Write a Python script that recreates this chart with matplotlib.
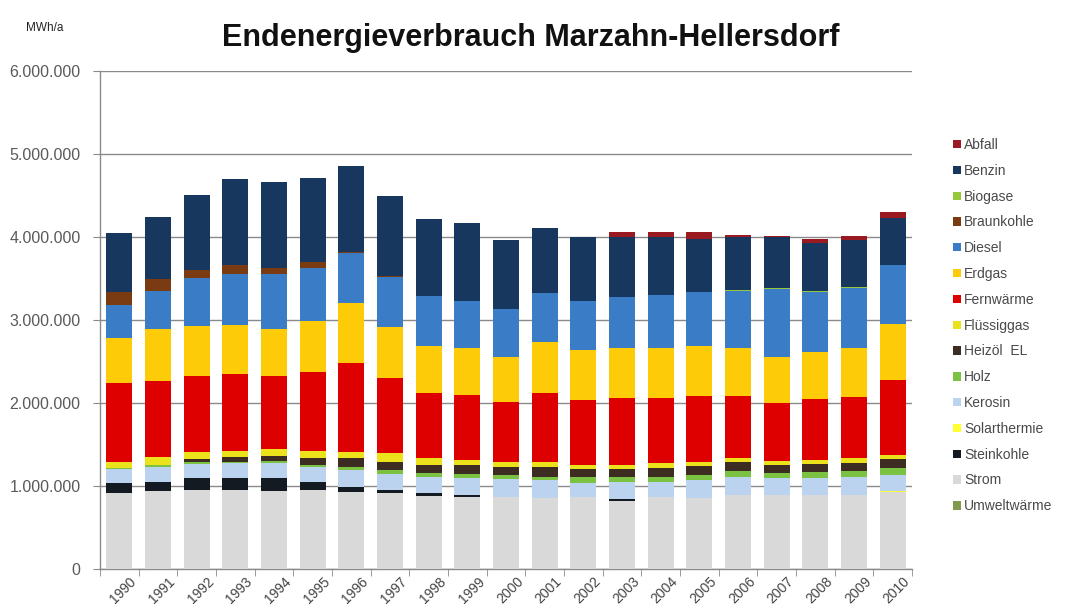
import matplotlib
matplotlib.use('Agg')
import matplotlib.pyplot as plt
import numpy as np
from matplotlib.ticker import FuncFormatter, FixedLocator
from matplotlib.patches import Patch
import matplotlib.transforms as mtransforms

plt.rcParams['font.family'] = ['Liberation Sans', 'DejaVu Sans']

# Endenergieverbrauch in 1000 MWh/a
years = [str(y) for y in range(1990, 2011)]
umweltwaerme = [0, 0, 0, 0, 0, 0, 0, 0, 0, 0, 2, 2, 2, 3, 3, 3, 4, 4, 5, 5, 6]
strom = [918, 939, 951, 951, 942, 951, 930, 911, 878, 870, 868, 849, 861, 815, 867, 848, 886, 886, 885, 885, 924]
steinkohle = [113, 112, 140, 140, 149, 100, 60, 40, 33, 20, 0, 0, 0, 21, 0, 0, 0, 0, 0, 0, 0]
solarthermie = [0, 0, 0, 0, 0, 0, 0, 1, 1, 1, 1, 2, 2, 2, 2, 3, 3, 3, 4, 4, 4]
kerosin = [170, 173, 173, 181, 188, 173, 201, 191, 191, 200, 208, 218, 174, 210, 179, 217, 210, 198, 197, 209, 197]
holz = [12, 27, 27, 19, 24, 27, 33, 48, 49, 52, 52, 40, 64, 52, 52, 60, 80, 61, 80, 80, 81]
heizoel_el = [5, 5, 33, 53, 57, 88, 108, 100, 100, 109, 100, 120, 97, 97, 109, 108, 108, 100, 93, 89, 112]
fluessiggas = [73, 88, 88, 80, 84, 85, 80, 101, 80, 60, 60, 60, 52, 52, 60, 52, 41, 48, 48, 60, 48]
fernwaerme = [944, 922, 914, 919, 882, 943, 1063, 903, 782, 782, 715, 823, 782, 802, 782, 791, 750, 694, 730, 734, 902]
erdgas = [541, 622, 602, 593, 558, 617, 722, 621, 573, 562, 541, 621, 601, 602, 602, 605, 581, 561, 566, 590, 671]
diesel = [397, 457, 570, 622, 666, 646, 609, 602, 598, 569, 582, 583, 594, 621, 641, 647, 689, 818, 732, 730, 713]
braunkohle = [157, 145, 108, 100, 80, 61, 10, 5, 0, 0, 0, 0, 0, 0, 0, 0, 0, 0, 0, 0, 0]
biogase = [0, 0, 0, 0, 0, 0, 0, 0, 0, 0, 0, 0, 0, 0, 0, 3, 5, 5, 5, 8, 8]
benzin = [717, 750, 903, 1035, 1031, 1018, 1034, 966, 935, 942, 838, 789, 770, 722, 702, 642, 642, 617, 586, 570, 557]
abfall = [0, 0, 0, 0, 0, 0, 0, 0, 0, 0, 0, 0, 0, 53, 60, 80, 20, 12, 40, 48, 72]

# stack order bottom -> top
series = [
    ('Umweltwärme', umweltwaerme, '#7f9a4c'),
    ('Strom', strom, '#d9d9d9'),
    ('Steinkohle', steinkohle, '#141a22'),
    ('Solarthermie', solarthermie, '#ffff33'),
    ('Kerosin', kerosin, '#bcd3ef'),
    ('Holz', holz, '#7cc242'),
    ('Heizöl  EL', heizoel_el, '#3d2c22'),
    ('Flüssiggas', fluessiggas, '#ece21c'),
    ('Fernwärme', fernwaerme, '#de0000'),
    ('Erdgas', erdgas, '#fdcb08'),
    ('Diesel', diesel, '#3a7dc6'),
    ('Braunkohle', braunkohle, '#7a3a12'),
    ('Biogase', biogase, '#97c83c'),
    ('Benzin', benzin, '#17375f'),
    ('Abfall', abfall, '#9a1a22'),
]

fig = plt.figure(figsize=(10.66, 6.16), dpi=100)
fig.patch.set_facecolor('white')
ax = fig.add_axes([100/1066, 1-569/616, 812/1066, (569-70.7)/616])

x = np.arange(len(years))
bottom = np.zeros(len(years))
handles = []
for name, vals, col in series:
    v = np.array(vals, dtype=float) * 1000
    ax.bar(x, v, width=0.67, bottom=bottom, color=col, edgecolor='none', zorder=3)
    bottom += v
    handles.append(Patch(facecolor=col, edgecolor='none', label=name))

ax.set_xlim(-0.5, len(years) - 0.5)
ax.set_ylim(0, 6000000)
ax.set_yticks(np.arange(0, 6000001, 1000000))
ax.yaxis.set_major_formatter(FuncFormatter(lambda v, p: f'{int(v):,}'.replace(',', '.')))
ax.grid(axis='y', color='#8a8a8a', linewidth=1.0, zorder=0)
ax.set_axisbelow(True)

for s in ['top', 'right']:
    ax.spines[s].set_visible(False)
for s in ['left', 'bottom']:
    ax.spines[s].set_color('#8a8a8a')
    ax.spines[s].set_linewidth(1.0)

ax.set_xticks(x)
ax.set_xticklabels(years, rotation=45, ha='right', rotation_mode='anchor', fontsize=10, color='#444444')
ax.tick_params(axis='x', which='major', length=0, pad=4)
ax.xaxis.set_minor_locator(FixedLocator(np.arange(-0.5, len(years), 1.0)))
ax.tick_params(axis='x', which='minor', length=5, color='#8a8a8a', direction='out')
offset = mtransforms.ScaledTranslation(10/100, 0, fig.dpi_scale_trans)
for lab in ax.get_xticklabels():
    lab.set_transform(lab.get_transform() + offset)

ax.tick_params(axis='y', length=5, color='#8a8a8a', labelsize=11.5, labelcolor='#5a5a5a', pad=9)

fig.text(531/1066, 1-38/616, 'Endenergieverbrauch Marzahn-Hellersdorf', ha='center', va='center',
         fontsize=22, fontweight='bold', color='#111111')
fig.text(45/1066, 1-28/616, 'MWh/a', ha='center', va='center', fontsize=8.5, color='#222222')

leg = fig.legend(handles=handles[::-1], loc='upper left', bbox_to_anchor=(953/1066, 1-138/616),
                 frameon=False, fontsize=10, handlelength=0.55, handleheight=0.55,
                 handletextpad=0.25, labelspacing=0.85, borderaxespad=0, borderpad=0)
for t in leg.get_texts():
    t.set_color('#4a4a4a')

fig.savefig('out.png', dpi=100, facecolor='white')
